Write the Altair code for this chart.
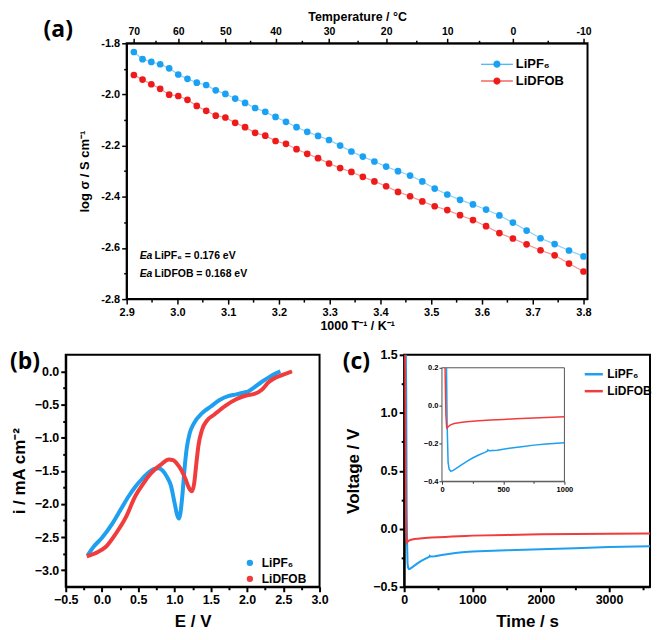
import altair as alt
import pandas as pd

FONT = "Liberation Sans"
PFONT = "Open Sans"
SER = ["LiPF₆", "LiDFOB"]
BLUE_A, RED_A = "#1AA1F4", "#EE1B1B"
BLUE_A_LINE, RED_A_LINE = "#8CCFF8", "#F59494"
BLUE, RED = "#1E9FEF", "#F03C3C"
MINUS = "\u2212"
NBSP = "\u00a0"

# ---------------- panel (a) data ----------------
temps_c = [70, 68, 66, 64, 62, 60, 58, 56, 54, 52, 50, 48, 46, 44, 42, 40, 38, 36, 34, 32, 30,
           28, 26, 24, 22, 20, 18, 16, 14, 12, 10, 8, 6, 4, 2, 0, -2, -4, -6, -8, -10]
log_sigma_lipf6 = [-1.834, -1.862, -1.873, -1.882, -1.898, -1.922, -1.939, -1.954, -1.963, -1.984,
                   -1.998, -2.016, -2.033, -2.053, -2.068, -2.088, -2.107, -2.128, -2.146, -2.162,
                   -2.178, -2.200, -2.223, -2.243, -2.262, -2.282, -2.300, -2.317, -2.340, -2.368,
                   -2.391, -2.412, -2.430, -2.450, -2.473, -2.501, -2.532, -2.562, -2.585, -2.610, -2.633]
log_sigma_lidfob = [-1.924, -1.942, -1.960, -1.978, -2.001, -2.006, -2.021, -2.045, -2.064, -2.083,
                    -2.090, -2.111, -2.128, -2.150, -2.161, -2.182, -2.193, -2.214, -2.232, -2.249,
                    -2.270, -2.288, -2.303, -2.322, -2.340, -2.359, -2.381, -2.398, -2.418, -2.437,
                    -2.452, -2.472, -2.491, -2.515, -2.542, -2.563, -2.586, -2.609, -2.629, -2.661, -2.692]
ann_x = [2.9256, 2.955]
ann_y = [-2.632, -2.700]
ann_ea = ["Ea", "Ea"]
ann_text = ["LiPF₆ = 0.176 eV", "LiDFOB = 0.168 eV"]

a_left_ticks = [-1.8, -1.9, -2.0, -2.1, -2.2, -2.3, -2.4, -2.5, -2.6, -2.7, -2.8]
a_bottom_ticks = [2.9, 2.95, 3.0, 3.05, 3.1, 3.15, 3.2, 3.25, 3.3, 3.35, 3.4, 3.45, 3.5, 3.55,
                  3.6, 3.65, 3.7, 3.75, 3.8]
a_top_temps = [70, 65, 60, 55, 50, 45, 40, 35, 30, 25, 20, 15, 10, 5, 0, -5, -10]

# ---------------- panel (b) data ----------------
cv_e_lipf6 = [-0.2, -0.11, 0.0, 0.14, 0.26, 0.37, 0.46, 0.555, 0.65, 0.72, 0.78, 0.84, 0.9, 0.95,
              1.0, 1.04, 1.06, 1.08, 1.11, 1.14, 1.17, 1.21, 1.27, 1.38, 1.5, 1.61, 1.75, 1.84, 1.95,
              2.02, 2.1, 2.2, 2.3, 2.4, 2.46]
cv_i_lipf6 = [-2.78, -2.64, -2.51, -2.3, -2.08, -1.88, -1.74, -1.62, -1.52, -1.47, -1.46, -1.5, -1.6,
              -1.72, -1.98, -2.18, -2.22, -2.15, -1.85, -1.45, -1.15, -0.93, -0.78, -0.63, -0.53,
              -0.44, -0.37, -0.35, -0.32, -0.3, -0.24, -0.16, -0.09, -0.03, 0.0]
cv_e_lidfob = [-0.21, -0.05, 0.05, 0.19, 0.33, 0.46, 0.56, 0.65, 0.74, 0.83, 0.92, 0.98, 1.04, 1.1,
               1.15, 1.2, 1.24, 1.27, 1.3, 1.33, 1.38, 1.45, 1.55, 1.7, 1.85, 2.0, 2.1, 2.2, 2.3,
               2.4, 2.5, 2.62]
cv_i_lidfob = [-2.79, -2.72, -2.65, -2.45, -2.2, -1.88, -1.71, -1.57, -1.47, -1.39, -1.33, -1.34,
               -1.4, -1.5, -1.62, -1.76, -1.81, -1.7, -1.4, -1.12, -0.88, -0.74, -0.65, -0.52, -0.42,
               -0.36, -0.34, -0.28, -0.16, -0.09, -0.05, 0.0]
b_x_ticks = [-0.5, -0.25, 0.0, 0.25, 0.5, 0.75, 1.0, 1.25, 1.5, 1.75, 2.0, 2.25, 2.5, 2.75, 3.0]
b_y_ticks = [0.0, -0.25, -0.5, -0.75, -1.0, -1.25, -1.5, -1.75, -2.0, -2.25, -2.5, -2.75, -3.0]

# ---------------- panel (c) data ----------------
t_lipf6 = [0, 30, 37, 42, 50, 58, 70, 85, 110, 150, 200, 250, 300, 350, 370, 375, 385, 450, 550,
           650, 750, 850, 1000, 1500, 2000, 2500, 3000, 3600]
v_lipf6 = [2.8, 1.2, 0.2, -0.1, -0.3, -0.335, -0.347, -0.345, -0.335, -0.318, -0.296, -0.277,
           -0.261, -0.247, -0.241, -0.234, -0.239, -0.236, -0.226, -0.217, -0.209, -0.203, -0.196,
           -0.185, -0.176, -0.168, -0.158, -0.150]
t_lidfob = [0, 15, 25, 32, 38, 42, 50, 70, 100, 150, 200, 300, 400, 500, 600, 700, 800, 900, 1000,
            1500, 2000, 2500, 3000, 3600]
v_lidfob = [2.8, 1.2, 0.2, -0.05, -0.115, -0.12, -0.112, -0.102, -0.095, -0.089, -0.085, -0.08,
            -0.076, -0.073, -0.07, -0.067, -0.064, -0.062, -0.059, -0.053, -0.048, -0.045, -0.042,
            -0.04]
c_x_ticks = [0, 500, 1000, 1500, 2000, 2500, 3000, 3500]
c_y_ticks = [-0.5, -0.25, 0.0, 0.25, 0.5, 0.75, 1.0, 1.25, 1.5]
inset_x_domain = [0, 1000]
inset_y_domain = [-0.4, 0.2]
inset_x_ticks = [0, 250, 500, 750, 1000]
inset_y_ticks = [0.2, 0.15, 0.1, 0.05, 0.0, -0.05, -0.1, -0.15, -0.2, -0.25, -0.3, -0.35, -0.4]


def axis(values, test, fmt, title="", lsize=11, tsize=13, major=5, minor=3, dcolor="black",
         dwidth=1.5, **kw):
    d = dict(values=values, labelExpr=f"({test}) ? {fmt} : ''",
             tickSize={"condition": {"test": test, "value": major}, "value": minor},
             grid=False, labelOverlap=False, labelFlush=False, title=title,
             labelFont=FONT, labelFontSize=lsize, labelFontWeight="bold", labelColor="black",
             titleFont=FONT, titleFontSize=tsize, titleFontWeight="bold", titleColor="black",
             domainColor=dcolor, domainWidth=dwidth, tickColor=dcolor, tickWidth=dwidth)
    d.update(kw)
    return alt.Axis(**d)


HALF = "round(abs(datum.value)*100) % 50 == 0"

# ================= panel (a) =================
dfa = pd.DataFrame({
    "T": temps_c + temps_c,
    "logs": log_sigma_lipf6 + log_sigma_lidfob,
    "series": [SER[0]] * len(temps_c) + [SER[1]] * len(temps_c),
})
dfa["invT"] = 1000.0 / (dfa["T"] + 273.15)

xsA = alt.Scale(domain=[2.9, 3.808], nice=False, zero=False)
ysA = alt.Scale(domain=[-2.8, -1.8], nice=False, zero=False)
colA = alt.Scale(domain=SER, range=[BLUE_A, RED_A])

left_axis = axis(a_left_ticks, "round(abs(datum.value)*10) % 2 == 0",
                 f"replace(format(datum.value, '.1f'), '{MINUS}', '-')",
                 title="log σ / S cm⁻¹", lsize=11, tsize=13, titlePadding=9, orient="left")
top_vals = [1000.0 / (t + 273.15) for t in a_top_temps]
top_axis = axis(top_vals, "round(1000/datum.value - 273.15) % 10 == 0",
                f"replace(format(round(1000/datum.value - 273.15), 'd'), '{MINUS}', '-')",
                title="Temperature / °C", lsize=10.5, tsize=12.5, orient="top",
                titlePadding=3, labelPadding=2)
bottom_axis = axis(a_bottom_ticks, "round(datum.value*100) % 10 == 0",
                   "format(datum.value, '.1f')", title="1000 T⁻¹ / K⁻¹", lsize=11, tsize=12.5,
                   titlePadding=3, labelPadding=2, orient="bottom")

# legend symbol: thin line with a filled dot in the middle
LEG_PATH = ("M-1.6,-0.05H1.6V0.05H-1.6Z"
            "M0.36,0A0.36,0.36,0,1,1,-0.36,0A0.36,0.36,0,1,1,0.36,0Z")
legA = alt.Legend(title=None, orient="none", legendX=362, legendY=11, symbolType=LEG_PATH,
                  symbolSize=400, symbolStrokeWidth=0, symbolOpacity=1, labelFont=FONT,
                  labelFontSize=13, labelFontWeight="bold", labelColor="black", labelOffset=9,
                  rowPadding=0)

lineA = alt.Chart(dfa).mark_line(strokeWidth=1.2).encode(
    x=alt.X("invT:Q", scale=xsA, axis=top_axis),
    y=alt.Y("logs:Q", scale=ysA, axis=left_axis),
    stroke=alt.Stroke("series:N", scale=alt.Scale(domain=SER, range=[BLUE_A_LINE, RED_A_LINE]),
                      legend=None),
)
ptsA = alt.Chart(dfa).mark_point(filled=True, size=45, opacity=1).encode(
    x=alt.X("invT:Q", scale=xsA, axis=bottom_axis),
    y=alt.Y("logs:Q", scale=ysA, axis=left_axis),
    color=alt.Color("series:N", scale=colA, legend=legA),
)
dfann = pd.DataFrame({"x1": [ann_x[0]] * 2, "x2": [ann_x[1]] * 2, "y": ann_y,
                      "ea": ann_ea, "t": ann_text})
annEa = alt.Chart(dfann).mark_text(align="left", baseline="middle", font=FONT, fontSize=10.5,
                                   fontWeight="bold", fontStyle="italic", color="black").encode(
    x=alt.X("x1:Q", scale=xsA, axis=None),
    y=alt.Y("y:Q", scale=ysA, axis=left_axis), text="ea:N")
annT = alt.Chart(dfann).mark_text(align="left", baseline="middle", font=FONT, fontSize=10.5,
                                  fontWeight="bold", color="black").encode(
    x=alt.X("x2:Q", scale=xsA, axis=None),
    y=alt.Y("y:Q", scale=ysA, axis=left_axis), text="t:N")
labA = alt.Chart(pd.DataFrame({"t": [NBSP * 2 + "(a)"]})).mark_text(
    align="right", baseline="middle", font=PFONT, fontSize=23, fontWeight="bold", color="black"
).encode(text="t:N", x=alt.value(-54), y=alt.value(-13))

panelA = alt.layer(lineA, ptsA, annEa, annT, labA).resolve_axis(x="independent").resolve_scale(
    stroke="independent").properties(width=463, height=257)

# ================= panel (b) =================
dfb = pd.DataFrame({
    "E": cv_e_lipf6 + cv_e_lidfob,
    "i": cv_i_lipf6 + cv_i_lidfob,
    "series": [SER[0]] * len(cv_e_lipf6) + [SER[1]] * len(cv_e_lidfob),
})
legB = alt.Legend(title=None, orient="none", legendX=179, legendY=203, symbolType="circle",
                  symbolSize=10, symbolStrokeWidth=3.2, labelFont=FONT, labelFontSize=12,
                  labelFontWeight="bold", labelColor="black", labelOffset=6, rowPadding=0)
lineB = alt.Chart(dfb).mark_line(strokeWidth=4, interpolate="monotone").encode(
    x=alt.X("E:Q", scale=alt.Scale(domain=[-0.5, 3.0], nice=False, zero=False),
            axis=axis(b_x_ticks, HALF, "format(datum.value, '.1f')", title="E / V", lsize=12.5,
                      tsize=17, dwidth=2, titlePadding=7)),
    y=alt.Y("i:Q", scale=alt.Scale(domain=[-3.25, 0.25], nice=False, zero=False),
            axis=axis(b_y_ticks, HALF, "format(datum.value, '.1f')", title="i / mA cm⁻²",
                      lsize=12.5, tsize=17, dwidth=2, titlePadding=6)),
    color=alt.Color("series:N", scale=alt.Scale(domain=SER, range=[BLUE, RED]), legend=legB),
    order=alt.Order("E:Q"),
)
labB = alt.Chart(pd.DataFrame({"t": ["(b)"]})).mark_text(
    align="center", baseline="middle", font=PFONT, fontSize=23, fontWeight="bold", color="black"
).encode(text="t:N", x=alt.value(-41), y=alt.value(7))
panelB = alt.layer(lineB, labB).properties(width=255, height=233)

# ================= panel (c) =================
dfc = pd.DataFrame({
    "t": t_lipf6 + t_lidfob,
    "V": v_lipf6 + v_lidfob,
    "series": [SER[0]] * len(t_lipf6) + [SER[1]] * len(t_lidfob),
})
dfi = dfc[(dfc["t"] <= inset_x_domain[1]) & (dfc["V"] <= inset_y_domain[1])]
CW, CH = 247, 233
legC = alt.Legend(title=None, orient="none", legendX=180, legendY=9, symbolType="stroke",
                  symbolSize=330, symbolStrokeWidth=2.5, labelFont=FONT, labelFontSize=12,
                  labelFontWeight="bold", labelColor="black", labelOffset=3, rowPadding=0)
colC = alt.Scale(domain=SER, range=[BLUE, RED])
mainC = alt.Chart(dfc).mark_line(strokeWidth=2, clip=True).encode(
    x=alt.X("t:Q", scale=alt.Scale(domain=[0, 3600], nice=False, zero=False),
            axis=axis(c_x_ticks, "datum.value % 1000 == 0", "format(datum.value, 'd')",
                      title="Time / s", lsize=12.5, tsize=17, dwidth=2, titlePadding=7,
                      orient="bottom")),
    y=alt.Y("V:Q", scale=alt.Scale(domain=[-0.5, 1.5], nice=False, zero=False),
            axis=axis(c_y_ticks, HALF, "format(datum.value, '.1f')", title="Voltage / V",
                      lsize=12.5, tsize=17, dwidth=2, titlePadding=10, orient="left")),
    color=alt.Color("series:N", scale=colC, legend=legC),
    order=alt.Order("t:Q"),
)
labC = alt.Chart(pd.DataFrame({"t": ["(c)"]})).mark_text(
    align="center", baseline="middle", font=PFONT, fontSize=23, fontWeight="bold", color="black"
).encode(text="t:N", x=alt.value(-48), y=alt.value(7))

ix_left, ix_right = 38.0, 161.0
iy_top, iy_bottom = 13.0, 127.0
isx = alt.Scale(domain=inset_x_domain, range=[ix_left, ix_right], nice=False, zero=False)
isy = alt.Scale(domain=inset_y_domain, range=[iy_bottom, iy_top], nice=False, zero=False)
dfbox = pd.DataFrame({"x0": [inset_x_domain[0]], "x1": [inset_x_domain[1]],
                      "y0": [inset_y_domain[0]], "y1": [inset_y_domain[1]]})
insetBox = alt.Chart(dfbox).mark_rect(fill="white", stroke="#555555", strokeWidth=1).encode(
    x=alt.X("x0:Q", scale=isx,
            axis=axis(inset_x_ticks, "datum.value % 500 == 0", "format(datum.value, 'd')",
                      lsize=7.5, major=3, minor=2, dcolor="#333333", dwidth=1,
                      orient="bottom", offset=-(CH - iy_bottom), labelPadding=1)),
    x2="x1:Q",
    y=alt.Y("y0:Q", scale=isy,
            axis=axis(inset_y_ticks, "round(abs(datum.value)*100) % 10 == 0",
                      "format(datum.value, '.1f')", lsize=7.5, major=3, minor=2,
                      dcolor="#333333", dwidth=1, orient="left", offset=-ix_left,
                      labelPadding=1)),
    y2="y1:Q",
)
insetLines = alt.Chart(dfi).mark_line(strokeWidth=1.5, clip=True).encode(
    x=alt.X("t:Q", scale=isx),
    y=alt.Y("V:Q", scale=isy),
    color=alt.Color("series:N", scale=colC, legend=None),
    order=alt.Order("t:Q"),
)
inset = alt.layer(insetBox, insetLines)
panelC = alt.layer(alt.layer(mainC, labC), inset).resolve_scale(
    x="independent", y="independent").properties(width=CW, height=CH)

rowBC = alt.hconcat(panelB, panelC, spacing=12).resolve_scale(
    color="independent", x="independent", y="independent").resolve_legend(color="independent")

chart = alt.vconcat(panelA, rowBC, spacing=14, center=True).resolve_scale(
    color="independent", stroke="independent", x="independent", y="independent").resolve_legend(
    color="independent").properties(padding=0).configure_view(stroke="black", strokeWidth=2)

chart.save("out.html", embed_options={"renderer": "svg", "actions": False})
